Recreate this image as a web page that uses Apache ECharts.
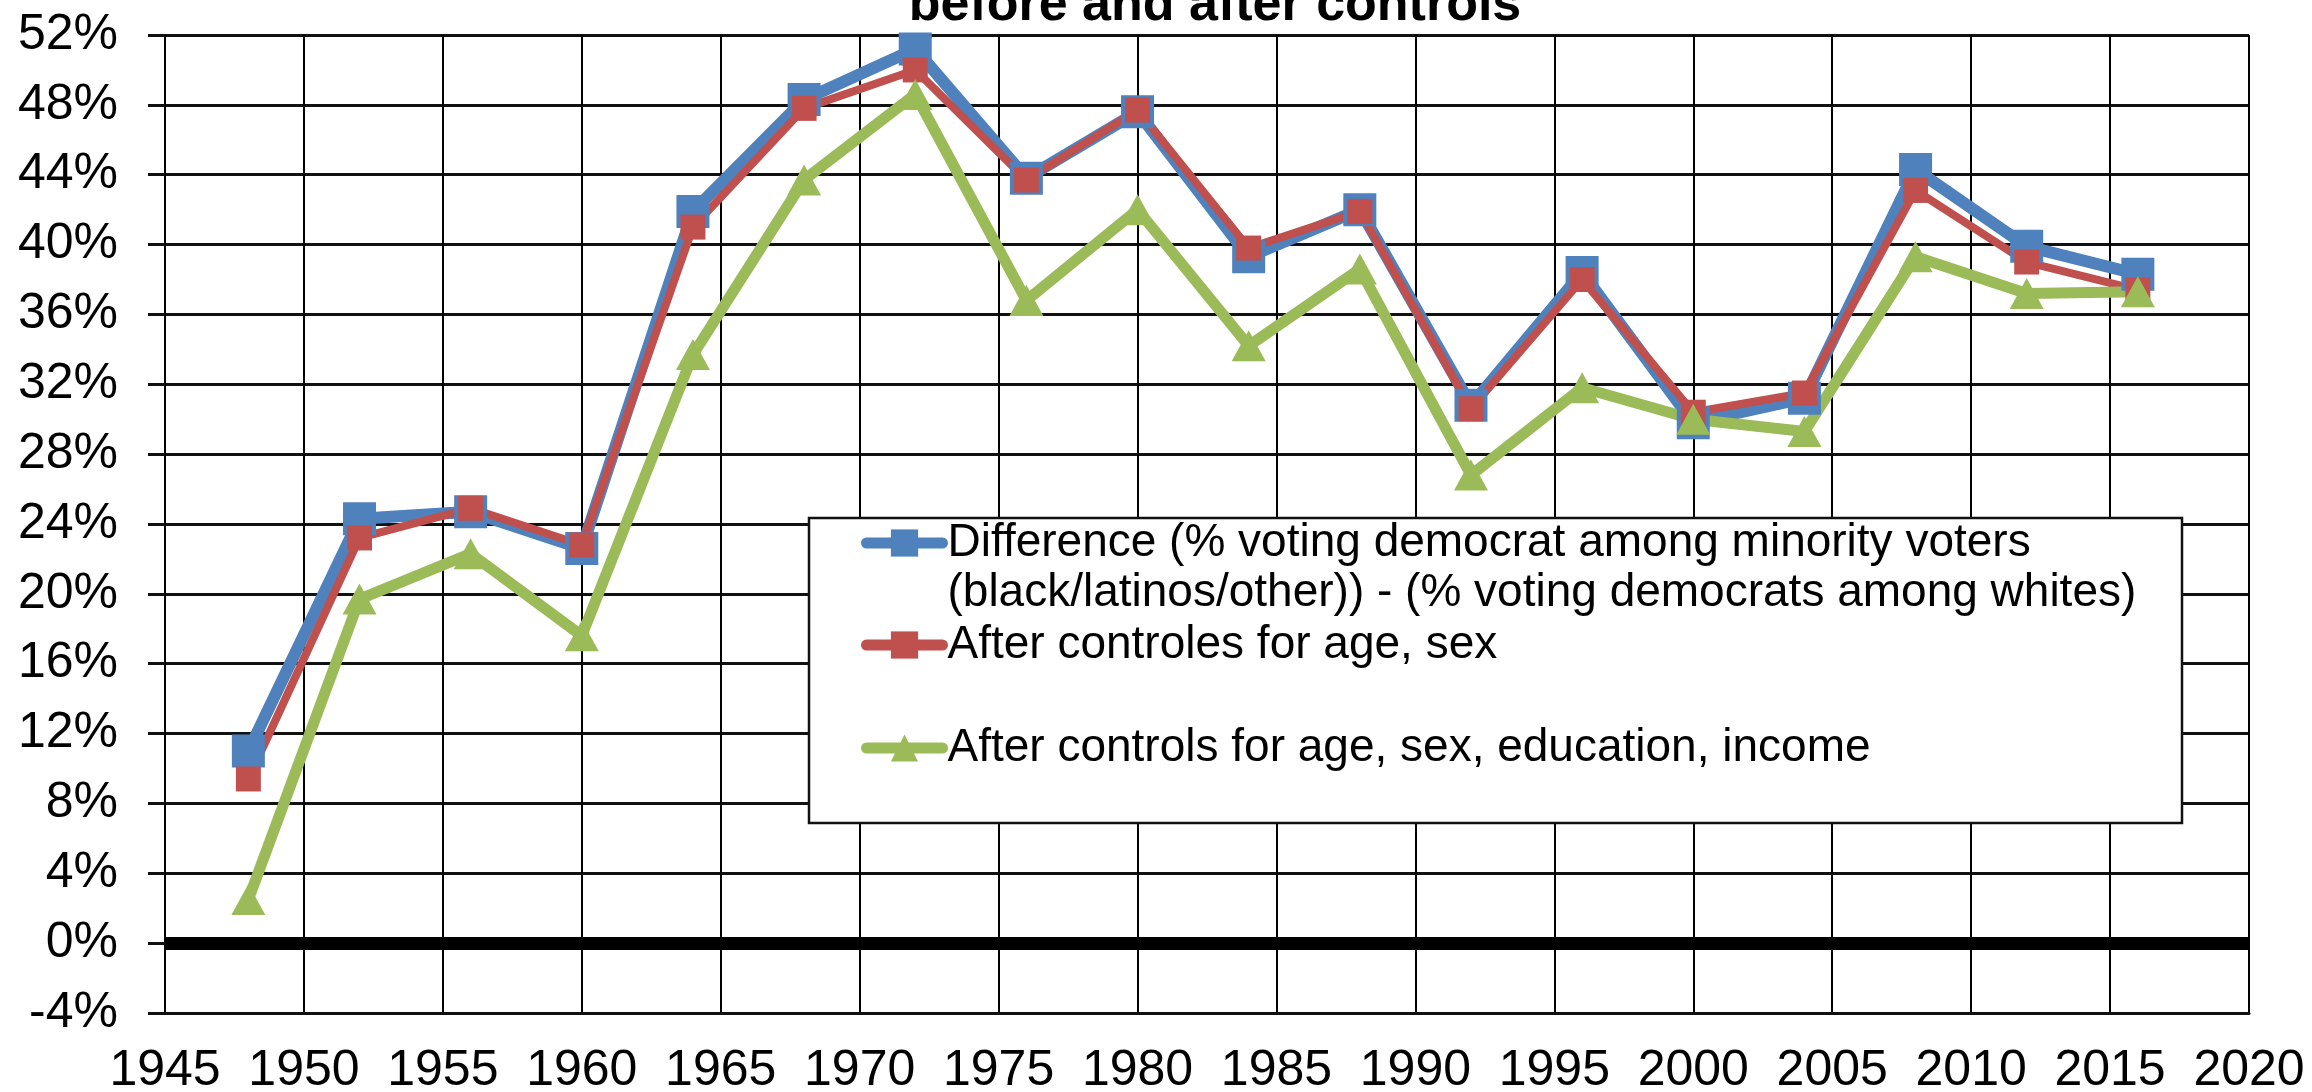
<!DOCTYPE html>
<html><head><meta charset="utf-8">
<script src="https://cdn.jsdelivr.net/npm/echarts@6/dist/echarts.min.js"></script>
<style>html,body{margin:0;padding:0;background:#fff}#c{width:2312px;height:1092px}</style>
</head><body><div id="c"></div>
<script>
// ---- data ----
const years = [1948,1952,1956,1960,1964,1968,1972,1976,1980,1984,1988,1992,1996,2000,2004,2008,2012,2016];
const differenceRaw = [11.0,24.3,24.7,22.6,41.9,48.3,51.2,43.8,47.6,39.3,42.0,30.8,38.4,29.8,31.2,44.3,39.9,38.3];
const afterAgeSex = [9.4,23.2,24.9,22.8,41.0,47.8,50.0,43.7,47.7,39.8,41.9,30.6,38.0,30.4,31.5,43.1,39.0,37.4];
const afterAgeSexEduInc = [2.5,19.7,22.3,17.6,33.7,43.7,48.6,36.8,42.0,34.2,38.6,26.8,31.8,30.0,29.3,39.3,37.2,37.3];
const xTicks = [1945,1950,1955,1960,1965,1970,1975,1980,1985,1990,1995,2000,2005,2010,2015,2020];
const yTicks = [-4,0,4,8,12,16,20,24,28,32,36,40,44,48,52];
const seriesNames = [
  'Difference (% voting democrat among minority voters (black/latinos/other)) - (% voting democrats among whites)',
  'After controles for age, sex',
  'After controls for age, sex, education, income'
];
const titleText = 'before and after controls';

const FONT = 'Liberation Sans';
const pairs = arr => years.map((y, i) => [y, arr[i]]);

const chart = echarts.init(document.getElementById('c'), null, {renderer: 'canvas'});
const legendBase = {
  orient: 'vertical', left: 861, padding: 0, itemWidth: 76, itemHeight: 34,
  selectedMode: false,
  lineStyle: {width: 11, cap: 'round'},
  textStyle: {fontFamily: FONT, fontSize: 46, lineHeight: 50, color: '#000'}
};
const option = {
  animation: false,
  backgroundColor: '#fff',
  title: {
    text: titleText, left: 1210, top: -25, textAlign: 'center',
    textStyle: {fontFamily: FONT, fontSize: 52, fontWeight: 'bold', color: '#000'}
  },
  grid: {left: 165, right: 63, top: 35, bottom: 79, containLabel: false, outerBoundsMode: 'none'},
  legend: [
    Object.assign({}, legendBase, {
      top: 468, data: [seriesNames[0]],
      formatter: n => ' \n' + n.replace('minority voters ', 'minority voters\n')
    }),
    Object.assign({}, legendBase, {top: 620, data: [seriesNames[1]]}),
    Object.assign({}, legendBase, {top: 723, data: [seriesNames[2]]})
  ],
  graphic: [{
    type: 'rect', z: 3,
    shape: {x: 809, y: 518, width: 1373, height: 305},
    style: {fill: '#fff', stroke: '#111', lineWidth: 2.5}
  }],
  xAxis: {
    type: 'value', min: xTicks[0], max: xTicks[xTicks.length - 1], interval: xTicks[1] - xTicks[0],
    axisLine: {show: true, onZero: false, lineStyle: {color: '#111', width: 3}},
    axisTick: {show: false},
    axisLabel: {fontFamily: FONT, fontSize: 50, color: '#000', margin: 33, formatter: v => String(v)},
    splitLine: {show: true, lineStyle: {color: '#000', width: 2}}
  },
  yAxis: {
    type: 'value', min: yTicks[0], max: yTicks[yTicks.length - 1], interval: yTicks[1] - yTicks[0],
    axisLine: {show: true, onZero: false, lineStyle: {color: '#000', width: 2}},
    axisTick: {show: true, length: 17, lineStyle: {color: '#111', width: 3}},
    axisLabel: {fontFamily: FONT, fontSize: 50, color: '#000', margin: 47, formatter: '{value}%'},
    splitLine: {show: true, lineStyle: {color: '#111', width: 3}}
  },
  series: [
    {
      name: seriesNames[0], type: 'line', data: pairs(differenceRaw),
      symbol: 'rect', symbolSize: 33, clip: false,
      lineStyle: {color: '#4F81BD', width: 12}, itemStyle: {color: '#4F81BD'},
      markLine: {
        silent: true, symbol: ['none', 'none'], label: {show: false},
        lineStyle: {color: '#000', width: 13, type: 'solid'},
        data: [{yAxis: 0}]
      }
    },
    {
      name: seriesNames[1], type: 'line', data: pairs(afterAgeSex),
      symbol: 'rect', symbolSize: 25, clip: false,
      lineStyle: {color: '#C0504D', width: 8}, itemStyle: {color: '#C0504D'}
    },
    {
      name: seriesNames[2], type: 'line', data: pairs(afterAgeSexEduInc),
      symbol: 'triangle', symbolSize: [34, 31], clip: false,
      lineStyle: {color: '#9BBB59', width: 11}, itemStyle: {color: '#9BBB59'}
    }
  ]
};
chart.setOption(option);
</script></body></html>
